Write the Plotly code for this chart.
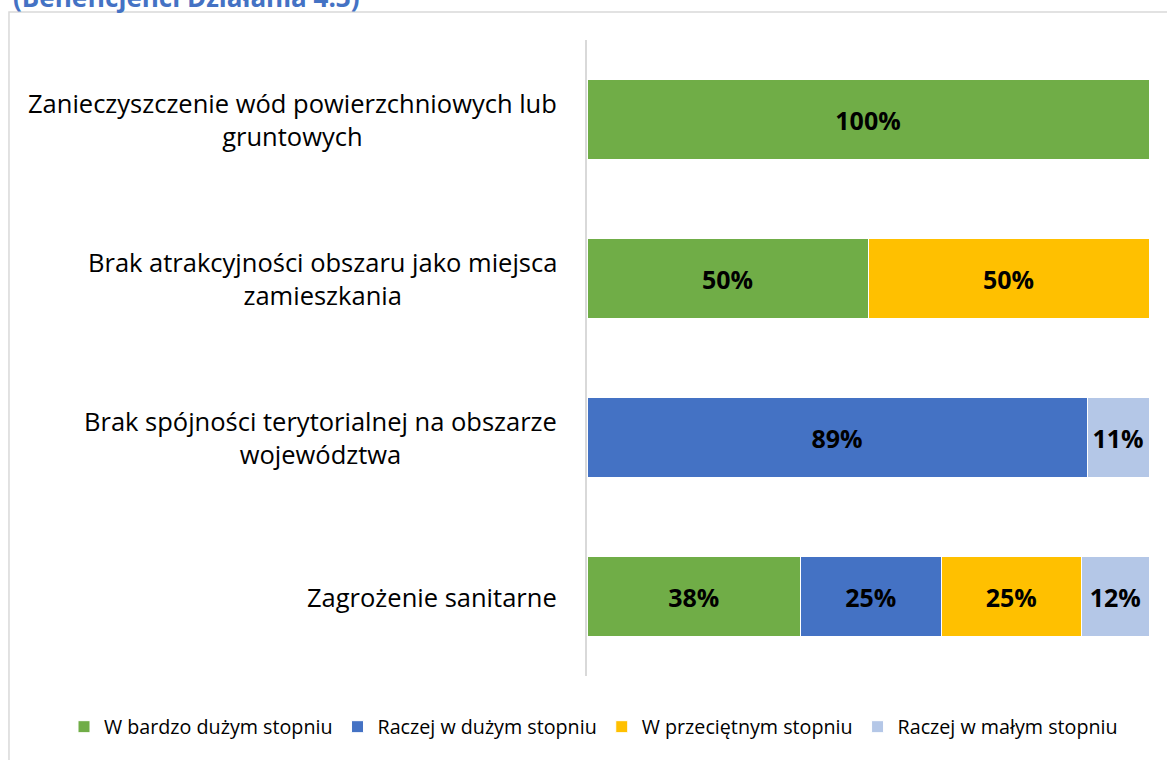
import plotly.graph_objects as go

# Categories, top to bottom
categories = [
    "Zanieczyszczenie wód powierzchniowych lub<br>gruntowych",
    "Brak atrakcyjności obszaru jako miejsca<br>zamieszkania",
    "Brak spójności terytorialnej na obszarze<br>województwa",
    "Zagrożenie sanitarne",
]
series_names = [
    "W bardzo dużym stopniu",
    "Raczej w dużym stopniu",
    "W przeciętnym stopniu",
    "Raczej w małym stopniu",
]
very_high = [100, 50, None, 38]
rather_high = [None, None, 89, 25]
average = [None, 50, None, 25]
rather_low = [None, None, 11, 12]
series_values = [very_high, rather_high, average, rather_low]
colors = ["#70AD47", "#4472C4", "#FFC000", "#B4C7E7"]

label_font = "Open Sans, Lato, sans-serif"

fig = go.Figure()
for name, vals, col in zip(series_names, series_values, colors):
    fig.add_trace(go.Bar(
        y=categories,
        x=vals,
        name=name,
        orientation="h",
        marker=dict(color=col, line=dict(color="white", width=1)),
        texttemplate="<b>%{x}%</b>",
        textposition="inside",
        insidetextanchor="middle",
        textangle=0,
        textfont=dict(color="black", size=25, family=label_font),
        hoverinfo="skip",
    ))

# Category labels, lines centred, block right-aligned next to the axis
for cat in categories:
    fig.add_annotation(
        x=0, xref="paper", xanchor="right", xshift=-28,
        y=cat, yref="y", yanchor="middle",
        text=cat, align="center", showarrow=False,
        font=dict(size=25.5, color="black", family=label_font),
    )

# Heading, partly above the page
fig.add_annotation(
    x=-1.025, xref="paper", xanchor="left",
    y=1.047, yref="paper", yanchor="bottom", yshift=-7,
    text="<b>(Beneficjenci Działania 4.3)</b>", showarrow=False,
    font=dict(size=26, color="#4472C4", family=label_font),
)

# Chart frame
fig.add_shape(
    type="rect", xref="paper", yref="paper",
    x0=-1.0285, x1=1.2, y0=-0.3, y1=1.044,
    line=dict(color="#D9D9D9", width=1.5), fillcolor="rgba(0,0,0,0)",
    layer="below",
)

fig.update_layout(
    width=1167, height=760,
    barmode="stack",
    bargap=0.5,
    plot_bgcolor="white",
    paper_bgcolor="white",
    margin=dict(l=587, r=18, t=40, b=84, autoexpand=False),
    showlegend=True,
    legend=dict(
        orientation="h", traceorder="normal",
        xref="paper", x=-0.9306, xanchor="left",
        yref="paper", y=-0.08, yanchor="middle",
        font=dict(size=19.7, color="black", family=label_font),
        itemwidth=30, tracegroupgap=0,
    ),
    xaxis=dict(range=[0, 100], visible=False, fixedrange=True),
    yaxis=dict(
        categoryorder="array", categoryarray=categories[::-1],
        showticklabels=False, ticks="", showgrid=False,
        showline=True, linecolor="#D9D9D9", linewidth=2,
        zeroline=False,
    ),
)

fig.write_html("out.html")
